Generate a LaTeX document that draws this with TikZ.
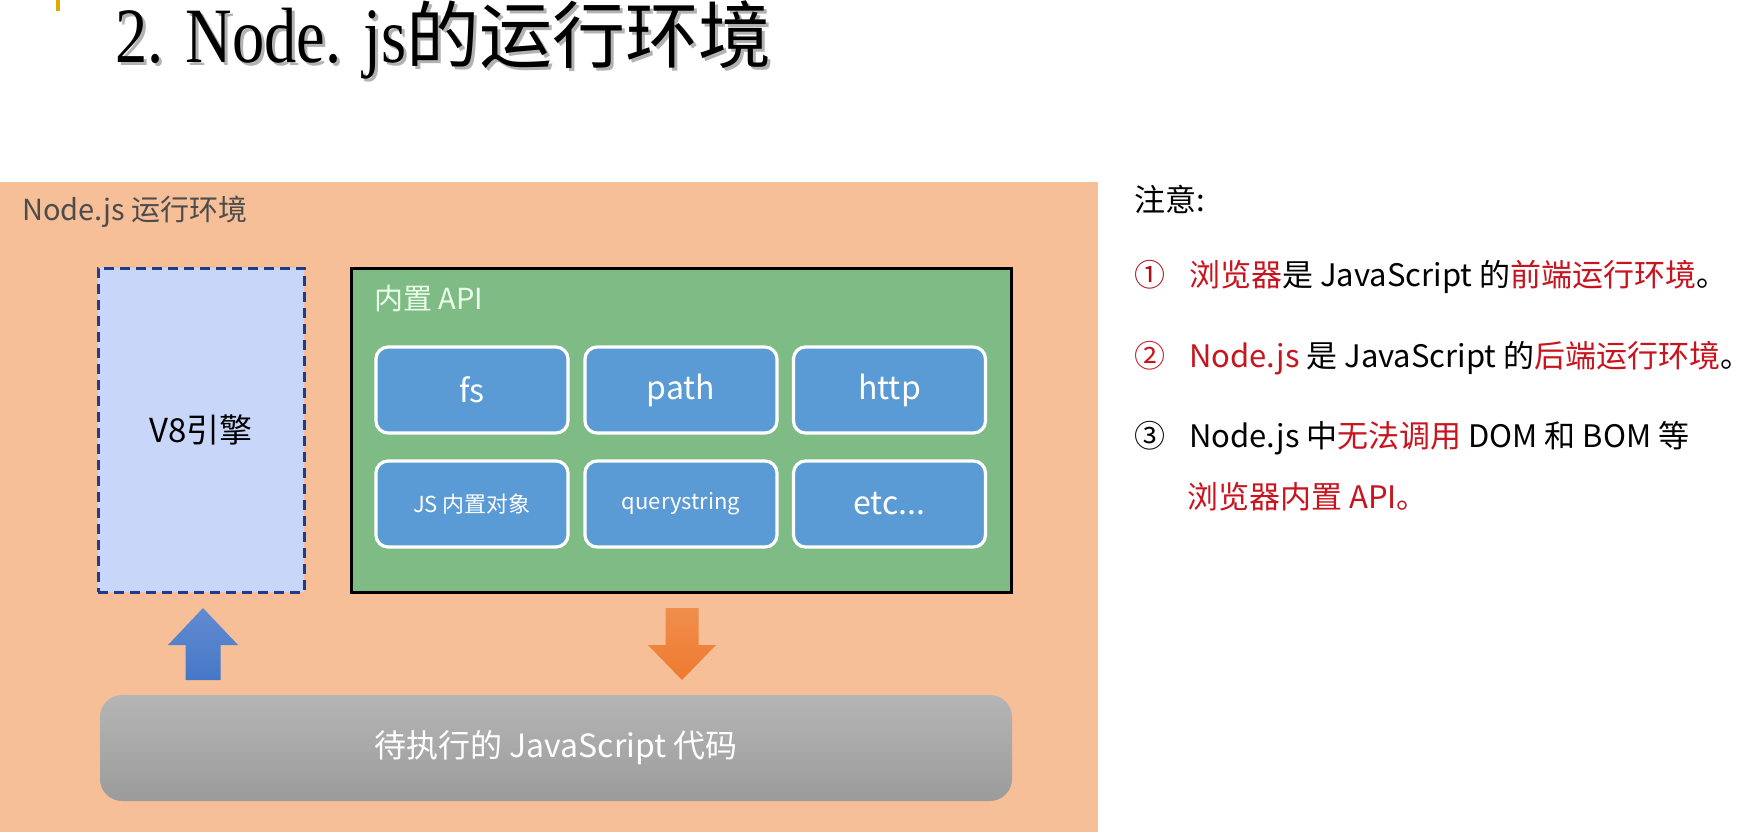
\documentclass[tikz,border=0pt]{standalone}
\usepackage{fontspec}
\setmainfont{Noto Sans CJK SC}
\newfontfamily\titlefont{Liberation Serif}
\newfontfamily\titlecjk{Noto Sans CJK SC}
\definecolor{bgorange}{HTML}{F6BF98}
\definecolor{v8fill}{HTML}{C8D6FA}
\definecolor{v8line}{HTML}{1F3C8C}
\definecolor{apigreen}{HTML}{7EBB85}
\definecolor{btnblue}{HTML}{5B9BD5}
\definecolor{noteRed}{HTML}{C8141E}
\definecolor{arrowblue}{HTML}{4677C8}
\definecolor{arroworange}{HTML}{EE7A2E}
\definecolor{bargold}{HTML}{E0A800}
\newcommand{\fsz}[1]{\fontsize{#1}{#1}\selectfont}
\newcommand{\titletext}{\titlefont\fsz{35pt}\scalebox{0.92}[1.12]{2.\hspace{12pt}Node.\hspace{12pt}js}\titlecjk\fsz{36.5pt}的运行环境}
\begin{document}
\begin{tikzpicture}[x=0.5pt,y=-0.5pt,
  envbox/.style={fill=bgorange, draw=none, minimum width=549pt, minimum height=325pt, inner sep=0pt},
  v8box/.style={fill=v8fill, draw=v8line, line width=1.5pt, dash pattern=on 5pt off 3pt, minimum width=103pt, minimum height=162pt, inner sep=0pt},
  apibox/.style={fill=apigreen, draw=black, line width=1.5pt, minimum width=330pt, minimum height=162pt, inner sep=0pt},
  btn/.style={fill=btnblue, draw=white, line width=1.6pt, rounded corners=6pt, minimum width=96pt, minimum height=43pt, inner sep=0pt, text=white},
  codebar/.style={top color=gray!58, bottom color=gray!78, draw=none, rounded corners=11pt, minimum width=456pt, minimum height=53pt, inner sep=0pt, text=white},
  note/.style={anchor=west, inner sep=0pt, font=\fsz{15.5pt}}
]
\useasboundingbox (0,0) rectangle (1752,835);
\fill[white] (0,0) rectangle (1752,835);
% gold bar
\fill[bargold] (56,0) rectangle (60,11);
% title with shadow
\node[anchor=base west, inner sep=0pt, text=gray!60] at (118,65) {\titletext};
\node[anchor=base west, inner sep=0pt] (title) at (115,62) {\titletext};
% environment background
\node[envbox] (env) at (549,507) {};
\node[anchor=west, inner sep=0pt, text=black!70, font=\fsz{14.5pt}] (envlabel) at (22,212) {Node.js 运行环境};
% V8
\node[v8box] (v8) at (201,430) {};
\node[font=\fsz{16.5pt}] (v8label) at (201,430) {V8引擎};
% API box
\node[apibox] (api) at (681.5,430) {};
\node[anchor=west, inner sep=0pt, text=white!92!green, font=\fsz{14.5pt}] (apilabel) at (374,299) {内置 API};
\node[btn, font=\fsz{16pt}] (fs) at (472,390) {fs};
\node[btn, font=\fsz{16pt}] (path) at (681,390) {path};
\node[btn, font=\fsz{16pt}] (http) at (889.5,390) {http};
\node[btn, font=\fsz{11pt}] (jsobj) at (472,504) {JS 内置对象};
\node[btn, font=\fsz{11pt}] (qs) at (681,504) {querystring};
\node[btn, font=\fsz{16pt}] (etc) at (889.5,504) {etc...};
% code bar
\node[codebar, font=\fsz{16pt}] (code) at (556,748) {待执行的 JavaScript 代码};
% block arrows
\coordinate (upTip) at (203,608);
\coordinate (downTip) at (682,680);
\shade[top color=arrowblue!85!white, bottom color=arrowblue]
  (upTip) -- (238,645) -- (220.5,645) -- (220.5,680) -- (185.5,680) -- (185.5,645) -- (168,645) -- cycle;
\shade[top color=arroworange!85!white, bottom color=arroworange]
  (665.5,608) -- (698.5,608) -- (698.5,645) -- (716,645) -- (downTip) -- (648,645) -- (665.5,645) -- cycle;
% notes
\node[note] (n0) at (1134,199) {注意:};
\node[note] (n1) at (1134,277) {\textcolor{noteRed!85!black}{①}\hspace{12pt}\textcolor{noteRed}{浏览器}是 JavaScript 的\textcolor{noteRed}{前端运行环境}。};
\node[note] (n2) at (1134,358) {\textcolor{noteRed}{②\hspace{12pt}Node.js} 是 JavaScript 的\textcolor{noteRed}{后端运行环境}。};
\node[note] (n3) at (1134,438) {③\hspace{12pt}Node.js 中\textcolor{noteRed}{无法调用} DOM 和 BOM 等};
\node[note, text=noteRed] (n4) at (1187,497) {浏览器内置 API。};
\end{tikzpicture}
\end{document}
